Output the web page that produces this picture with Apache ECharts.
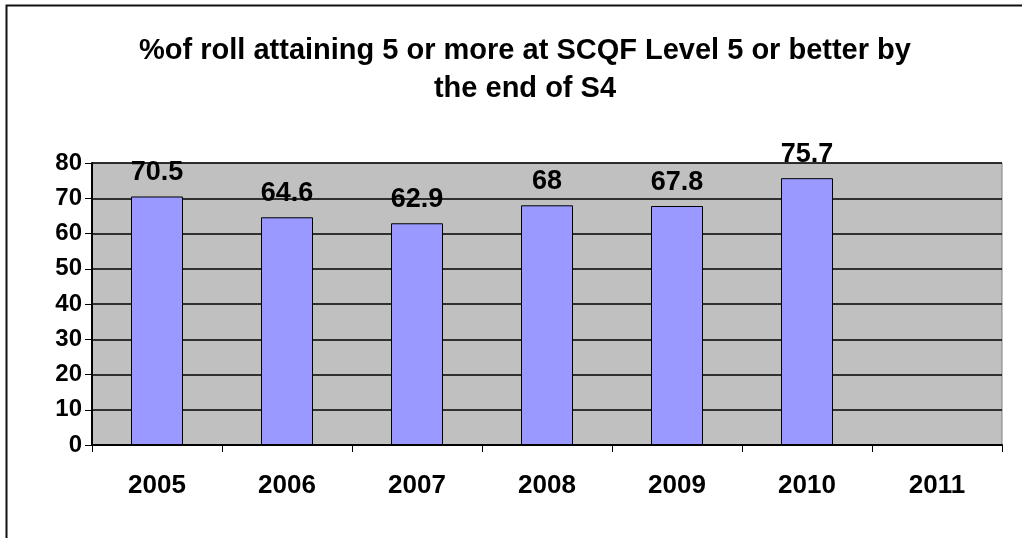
<!DOCTYPE html>
<html>
<head>
<meta charset="utf-8">
<script src="https://cdn.jsdelivr.net/npm/echarts@6/dist/echarts.min.js"></script>
<style>
  html, body { margin: 0; padding: 0; background: #fff; }
  #chart { width: 1022px; height: 538px; }
</style>
</head>
<body>
<div id="chart"></div>
<script>
  // data
  var years = ['2005', '2006', '2007', '2008', '2009', '2010', '2011']
  var rollPct = [70.5, 64.6, 62.9, 68, 67.8, 75.7, null]
  var yTicks = { min: 0, max: 80, interval: 10 }

  var chart = echarts.init(document.getElementById('chart'))
  chart.setOption({
    animation: false,
    backgroundColor: '#fff',
    textStyle: { fontFamily: 'Liberation Sans, Arial, sans-serif' },
    title: {
      text: '%of roll attaining 5 or more at SCQF Level 5 or better by\nthe end of S4',
      left: 520,
      textAlign: 'center',
      top: 27,
      textStyle: {
        fontSize: 29,
        fontWeight: 'bold',
        color: '#000',
        lineHeight: 38
      }
    },
    graphic: [{
      type: 'rect',
      left: 4,
      top: 3,
      shape: { width: 1100, height: 600 },
      style: { fill: 'none', stroke: '#111', lineWidth: 2 },
      silent: true
    }],
    grid: {
      left: 92,
      right: 20,
      top: 163,
      bottom: 93,
      show: true,
      backgroundColor: '#c0c0c0',
      borderColor: '#808080',
      borderWidth: 1
    },
    xAxis: {
      type: 'category',
      data: years,
      boundaryGap: true,
      axisLine: { show: true, lineStyle: { color: '#000', width: 2 } },
      axisTick: { show: true, inside: false, length: 7, interval: 0, lineStyle: { color: '#000', width: 1 } },
      axisLabel: { margin: 28, fontSize: 26, fontWeight: 'bold', color: '#000', interval: 0 }
    },
    yAxis: {
      type: 'value',
      min: yTicks.min,
      max: yTicks.max,
      interval: yTicks.interval,
      axisLine: { show: true, lineStyle: { color: '#000', width: 2 } },
      axisTick: { show: true, inside: false, length: 7, lineStyle: { color: '#000', width: 1 } },
      axisLabel: { margin: 10, fontSize: 24, fontWeight: 'bold', color: '#000' },
      splitLine: { show: true, lineStyle: { color: '#000', width: 1.5 } }
    },
    series: [{
      type: 'bar',
      data: rollPct,
      barWidth: '40%',
      itemStyle: { color: '#9999ff', borderColor: '#000', borderWidth: 1 },
      label: {
        show: true,
        position: 'top',
        distance: 10,
        fontSize: 27,
        fontWeight: 'bold',
        color: '#000'
      },
      z: 3
    }]
  })
</script>
</body>
</html>
